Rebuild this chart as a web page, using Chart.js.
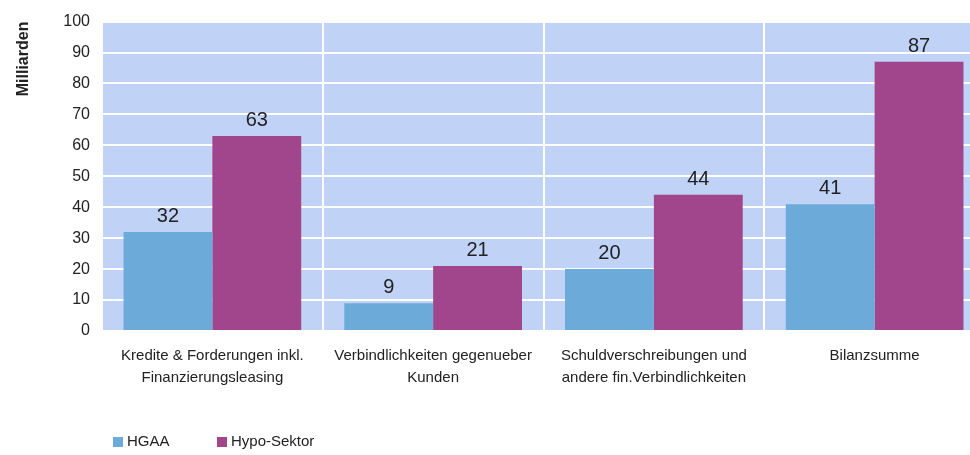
<!DOCTYPE html>
<html>
<head>
<meta charset="utf-8">
<script src="https://cdn.jsdelivr.net/npm/chart.js@4/dist/chart.umd.min.js"></script>
<style>
    html, body { margin: 0; padding: 0; background: #fff; overflow: hidden; }
    #wrap { position: relative; width: 990px; height: 455px; }
    #legend { position: absolute; left: 113px; top: 432px; font: 15px "Liberation Sans", Arial, sans-serif; color: #222; }
    .legend-item { position: absolute; top: 0; white-space: nowrap; }
    .legend-dot { display: inline-block; width: 10px; height: 10px; margin-right: 4px; vertical-align: -1px; }
</style>
</head>
<body>
<div id="wrap">
    <canvas id="barChart" width="990" height="455"></canvas>
    <div id="legend"></div>
</div>
<script>
// values in Milliarden
const categories = [
    ['Kredite & Forderungen inkl.', 'Finanzierungsleasing'],
    ['Verbindlichkeiten gegenueber', 'Kunden'],
    ['Schuldverschreibungen und', 'andere fin.Verbindlichkeiten'],
    ['Bilanzsumme']
];
const seriesNames = ['HGAA', 'Hypo-Sektor'];
const hgaaValues = [32, 9, 20, 41];
const hypoValues = [63, 21, 44, 87];
const yTicks = [0, 10, 20, 30, 40, 50, 60, 70, 80, 90, 100];

const seriesColors = ['#6baad9', '#a1468c'];
const fontFamily = '"Liberation Sans", Arial, sans-serif';

// plot area background
const plotBackground = {
    id: 'plotBackground',
    beforeDraw(chart) {
        const {ctx, chartArea: a} = chart;
        ctx.save();
        ctx.fillStyle = '#c1d2f7';
        ctx.fillRect(a.left, a.top, a.right - a.left, a.bottom - a.top);
        ctx.restore();
    }
};

// value labels above the bars
const valueLabels = {
    id: 'valueLabels',
    afterDatasetsDraw(chart) {
        const ctx = chart.ctx;
        ctx.save();
        ctx.font = '20px ' + fontFamily;
        ctx.fillStyle = '#222';
        ctx.textAlign = 'center';
        ctx.textBaseline = 'alphabetic';
        chart.data.datasets.forEach((ds, i) => {
            chart.getDatasetMeta(i).data.forEach((bar, j) => {
                ctx.fillText(String(ds.data[j]), bar.x, bar.y - 10);
            });
        });
        ctx.restore();
    }
};

const ctx = document.getElementById('barChart').getContext('2d');
new Chart(ctx, {
    type: 'bar',
    data: {
        labels: categories,
        datasets: [
            { label: seriesNames[0], data: hgaaValues, backgroundColor: seriesColors[0] },
            { label: seriesNames[1], data: hypoValues, backgroundColor: seriesColors[1] }
        ]
    },
    options: {
        responsive: false,
        animation: false,
        layout: { padding: { top: 15, right: 5, left: 0, bottom: 0 } },
        datasets: {
            bar: { categoryPercentage: 0.805, barPercentage: 1.0, borderWidth: 0 }
        },
        scales: {
            x: {
                offset: true,
                border: { display: false },
                grid: { offset: true, color: '#ffffff', lineWidth: 2, drawTicks: false },
                ticks: {
                    color: '#222',
                    padding: 14,
                    maxRotation: 0,
                    autoSkip: false,
                    font: { family: fontFamily, size: 15, lineHeight: 1.45 }
                },
                afterFit(scale) { scale.height = 124; }
            },
            y: {
                min: 0,
                max: 100,
                border: { display: false },
                grid: { color: '#ffffff', lineWidth: 2, drawTicks: false },
                afterBuildTicks(scale) { scale.ticks = yTicks.map(v => ({ value: v })); },
                ticks: {
                    color: '#222',
                    padding: 12,
                    font: { family: fontFamily, size: 16 }
                },
                title: {
                    display: true,
                    text: 'Milliarden',
                    align: 'end',
                    color: '#222',
                    padding: { top: 14, bottom: 0 },
                    font: { family: fontFamily, size: 16, weight: 'bold' }
                },
                afterFit(scale) { scale.width = 102; }
            }
        },
        plugins: {
            legend: { display: false },
            tooltip: { enabled: false }
        }
    },
    plugins: [plotBackground, valueLabels]
});

// legend
const legendContainer = document.getElementById('legend');
const legendOffsets = [0, 104];
seriesNames.forEach((name, i) => {
    legendContainer.innerHTML += `
        <div class="legend-item" style="left:${legendOffsets[i]}px">
            <span class="legend-dot" style="background:${seriesColors[i]}"></span>${name}
        </div>`;
});
</script>
</body>
</html>
